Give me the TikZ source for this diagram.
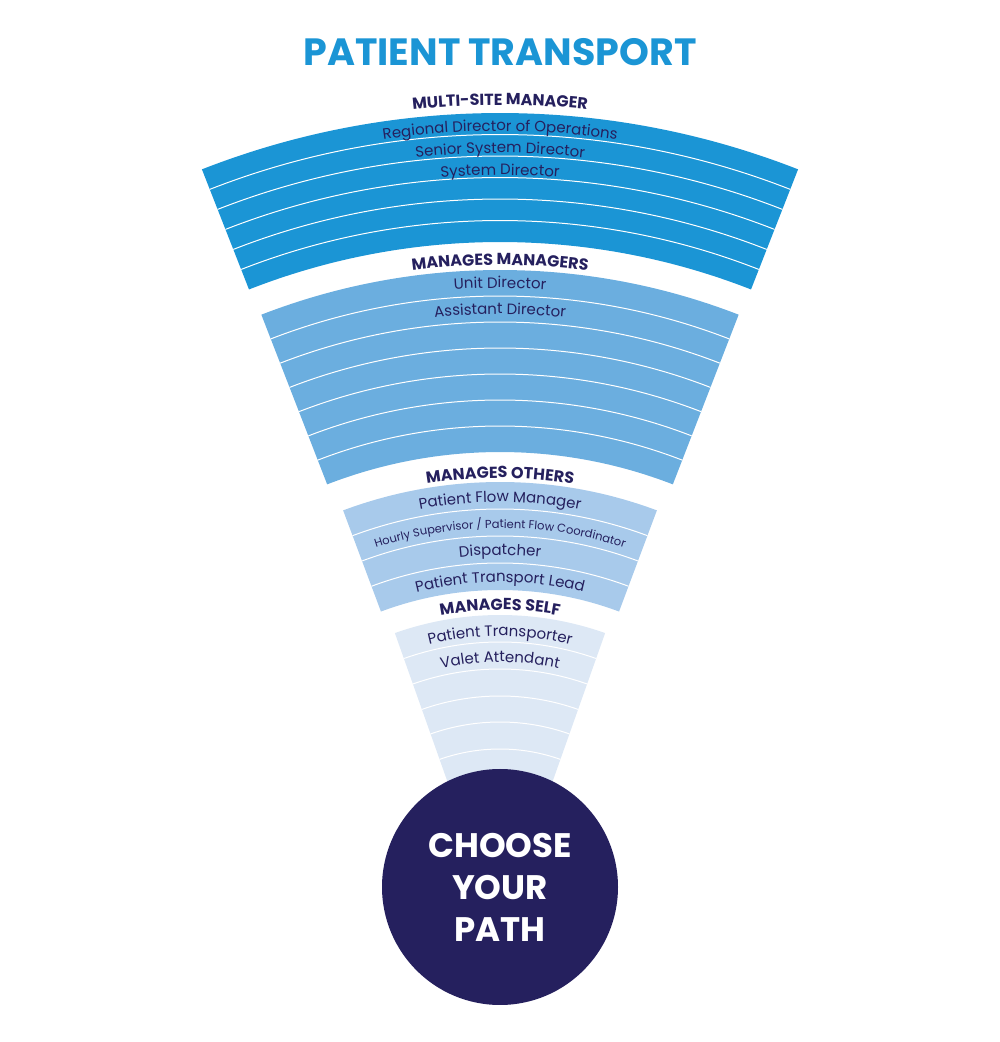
\documentclass[tikz,border=0pt]{standalone}
\usepackage{fontspec}
\setmainfont{Poppins}
\usetikzlibrary{calc,decorations.text}
\definecolor{navy}{HTML}{25205E}
\definecolor{bandA}{HTML}{1B95D5}
\definecolor{bandB}{HTML}{6BAEDF}
\definecolor{bandC}{HTML}{A8CAEB}
\definecolor{bandD}{HTML}{DDE8F5}
\newcommand\fanband[5]{%
 \fill[#4] ($(A)+(90+#3:#1pt)$) arc[start angle=90+#3,end angle=90-#3,radius=#1pt] -- ($(A)+(90-#3:#2pt)$) arc[start angle=90-#3,end angle=90+#3,radius=#2pt] -- cycle;
 \foreach \k in {#5}{\pgfmathsetmacro\rr{#1-\k*(#1-#2)/6}%
 }}
\newcommand\sepline[2]{\draw[sep] ($(A)+(90+#2:#1pt)$) arc[start angle=90+#2,end angle=90-#2,radius=#1pt];}
\newcommand\arclabel[3]{\path[decorate,decoration={text along path,text align=center,text={|#2|#3}}] ($(A)+(118:#1pt)$) arc[start angle=118,end angle=62,radius=#1pt];}
\newcommand\hd{\fontsize{16}{18}\selectfont\bfseries\color{navy}}
\newcommand\lb{\fontsize{15}{18}\selectfont\color{navy}}
\newcommand\lbs{\fontsize{11.5}{14}\selectfont\color{navy}}
\begin{document}
\begin{tikzpicture}[x=1pt,y=1pt,sep/.style={white,line width=1pt}]
\useasboundingbox (0,0) rectangle (1000,1042);
\coordinate (A) at (500,112);
\node[font=\fontsize{38}{40}\selectfont\bfseries,text=bandA] (title) at (500,990) {PATIENT TRANSPORT};
% band 1
\fanband{817}{688}{21.4}{bandA}{}
\foreach \r in {795.5,774,752.5,731,709.5}{\sepline{\r}{21.4}}
% band 2
\fanband{660}{478}{21.2}{bandB}{}
\foreach \r in {634,608,582,556,530,504}{\sepline{\r}{21.2}}
% band 3
\fanband{448}{340}{20.5}{bandC}{}
\foreach \r in {421,394,367}{\sepline{\r}{20.5}}
% band 4
\fanband{315}{155}{19.5}{bandD}{}
\foreach \r in {288,261,234,208,181}{\sepline{\r}{19.5}}
% labels
\arclabel{825}{\hd}{MULTI-SITE MANAGER}
\arclabel{799}{\lb}{Regional Director of Operations}
\arclabel{777}{\lb}{Senior System Director}
\arclabel{755}{\lb}{System Director}
\arclabel{665}{\hd}{MANAGES MANAGERS}
\arclabel{642}{\lb}{Unit Director}
\arclabel{616}{\lb}{Assistant Director}
\arclabel{452}{\hd}{MANAGES OTHERS}
\arclabel{428}{\lb}{Patient Flow Manager}
\arclabel{402}{\lbs}{Hourly Supervisor / Patient Flow Coordinator}
\arclabel{375}{\lb}{Dispatcher}
\arclabel{348}{\lb}{Patient Transport Lead}
\arclabel{320}{\hd}{MANAGES SELF}
\arclabel{294}{\lb}{Patient Transporter}
\arclabel{268}{\lb}{Valet Attendant}
% circle
\node[circle,fill=navy,minimum size=236pt,inner sep=0pt,text=white,align=center,font=\fontsize{34}{42}\selectfont\bfseries] (path) at (500,155) {CHOOSE\\YOUR\\PATH};
\end{tikzpicture}
\end{document}
